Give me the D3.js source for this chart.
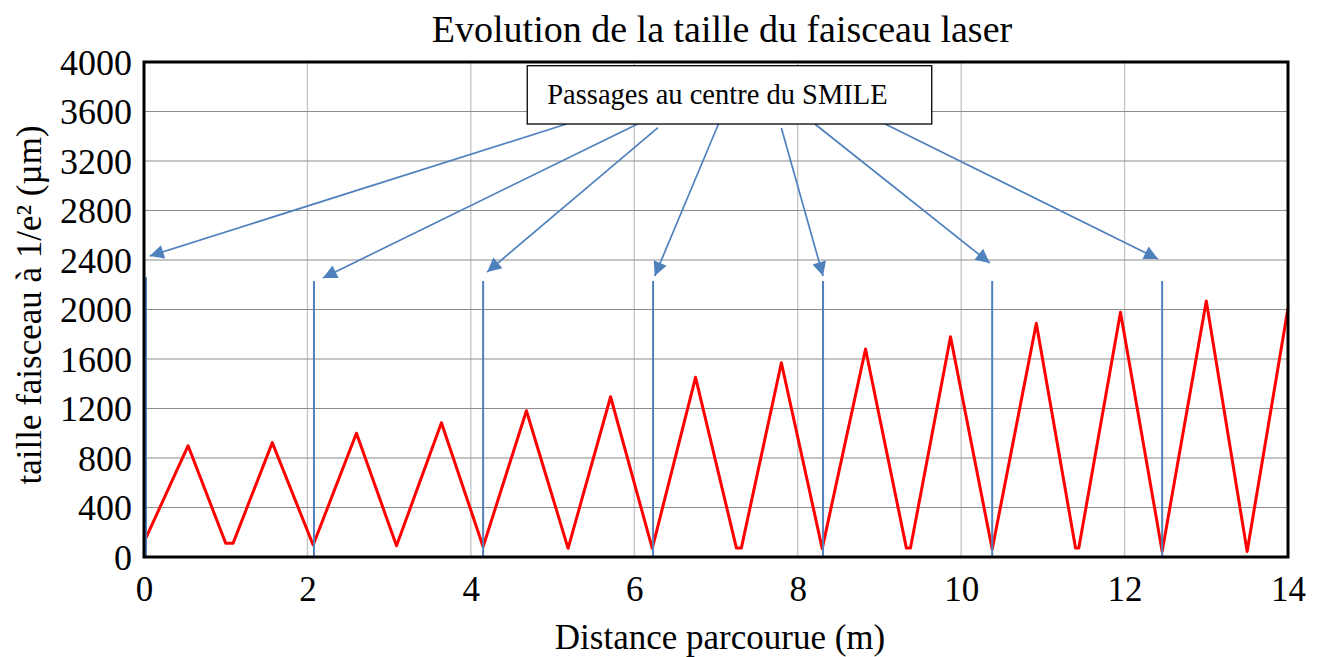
<!DOCTYPE html>
<html>
<head>
<meta charset="utf-8">
<script src="https://cdn.jsdelivr.net/npm/d3@7"></script>
<style>
  html, body { margin: 0; padding: 0; background: #fff; }
  svg { display: block; }
  text { font-family: "Liberation Serif", "Times New Roman", serif; fill: #000; }
</style>
</head>
<body>
<svg id="chart" width="1321" height="657"></svg>
<script>
// ---- data ----
const title = "Evolution de la taille du faisceau laser";
const xLabel = "Distance parcourue (m)";
const yLabel = "taille faisceau à 1/e² (µm)";
const annotationText = "Passages au centre du SMILE";

const xTicks = [0, 2, 4, 6, 8, 10, 12, 14];
const yTicks = [0, 400, 800, 1200, 1600, 2000, 2400, 2800, 3200, 3600, 4000];

// beam size (µm) vs distance (m): peaks and troughs
const distance = [0, 0.54, 1.0, 1.09, 1.57, 2.07, 2.60, 3.09, 3.64, 4.15, 4.68, 5.19, 5.71, 6.22, 6.75, 7.25, 7.31, 7.80, 8.30, 8.83, 9.33, 9.38, 9.87, 10.38, 10.92, 11.40, 11.44, 11.95, 12.46, 13.0, 13.5, 14.0];
const beamSize = [120, 899, 111, 111, 924, 97, 1000, 91, 1085, 83, 1182, 70, 1295, 70, 1452, 72, 72, 1570, 68, 1681, 72, 72, 1780, 62, 1889, 72, 72, 1978, 45, 2069, 45, 2010];

// passages through the SMILE centre (blue vertical markers)
const passageX = [0, 2.08, 4.15, 6.23, 8.31, 10.38, 12.46];
const passageTop = [2260, 2230, 2230, 2230, 2230, 2230, 2230];

// annotation box (data units) and arrows (start on box, tip near markers)
const boxX = [4.69, 9.64];
const boxY = [3970, 3499];
const arrowFromX = [5.17, 6.04, 6.29, 7.03, 7.80, 8.21, 9.07];
const arrowFromY = [3499, 3499, 3469, 3499, 3467, 3499, 3499];
const arrowToX = [0.07, 2.19, 4.20, 6.25, 8.31, 10.35, 12.41];
const arrowToY = [2432, 2255, 2303, 2271, 2271, 2376, 2408];

// ---- layout ----
const svg = d3.select("#chart");
const L = 144, R = 1288, T = 62, B = 557;
const x = d3.scaleLinear().domain([0, 14]).range([L, R]);
const y = d3.scaleLinear().domain([0, 4000]).range([B, T]);

const blue = "#4F81BD";

// gridlines
svg.append("g").selectAll("line").data(xTicks).join("line")
  .attr("x1", d => x(d)).attr("x2", d => x(d))
  .attr("y1", T).attr("y2", B)
  .attr("stroke", "#C4C4C4").attr("stroke-width", 1.3);
svg.append("g").selectAll("line").data(yTicks).join("line")
  .attr("x1", L).attr("x2", R)
  .attr("y1", d => y(d)).attr("y2", d => y(d))
  .attr("stroke", "#8C8C8C").attr("stroke-width", 1.2);

// axes (labels only)
const xAxis = d3.axisBottom(x).tickValues(xTicks).tickSize(0).tickPadding(19).tickFormat(d3.format("d"));
const gx = svg.append("g").attr("transform", `translate(0,${B})`).call(xAxis);
gx.select(".domain").remove();
gx.selectAll("text").attr("font-size", 35).attr("font-family", "Liberation Serif").attr("fill", "#000").attr("dy", "0.71em");

const yAxis = d3.axisLeft(y).tickValues(yTicks).tickSize(0).tickPadding(12).tickFormat(d3.format("d"));
const gy = svg.append("g").attr("transform", `translate(${L},0)`).call(yAxis);
gy.select(".domain").remove();
gy.selectAll("text").attr("font-size", 36).attr("font-family", "Liberation Serif").attr("fill", "#000").attr("dy", "0.34em");

// red beam curve
const line = d3.line().x((d, i) => x(distance[i])).y((d, i) => y(beamSize[i]));
svg.append("path").datum(beamSize)
  .attr("d", line)
  .attr("fill", "none").attr("stroke", "#FF0000").attr("stroke-width", 3)
  .attr("stroke-linejoin", "round");

// passage markers
svg.append("g").selectAll("line").data(passageX).join("line")
  .attr("x1", d => x(d) + (d === 0 ? 2 : 0)).attr("x2", d => x(d) + (d === 0 ? 2 : 0))
  .attr("y1", (d, i) => y(passageTop[i])).attr("y2", y(0))
  .attr("stroke", blue).attr("stroke-width", 2);

// plot frame
svg.append("rect").attr("x", L).attr("y", T).attr("width", R - L).attr("height", B - T)
  .attr("fill", "none").attr("stroke", "#000").attr("stroke-width", 3);

// arrows
const defs = svg.append("defs");
defs.append("marker").attr("id", "arrowhead")
  .attr("viewBox", "0 0 10 10").attr("refX", 10).attr("refY", 5)
  .attr("markerUnits", "userSpaceOnUse")
  .attr("markerWidth", 18).attr("markerHeight", 14)
  .attr("orient", "auto")
  .append("path").attr("d", "M0,0 L10,5 L0,10 Z").attr("fill", blue);

svg.append("g").selectAll("line").data(arrowFromX).join("line")
  .attr("x1", (d, i) => x(arrowFromX[i])).attr("y1", (d, i) => y(arrowFromY[i]))
  .attr("x2", (d, i) => x(arrowToX[i])).attr("y2", (d, i) => y(arrowToY[i]))
  .attr("stroke", blue).attr("stroke-width", 1.7)
  .attr("marker-end", "url(#arrowhead)");

// annotation box
svg.append("rect")
  .attr("x", x(boxX[0])).attr("y", y(boxY[0]))
  .attr("width", x(boxX[1]) - x(boxX[0])).attr("height", y(boxY[1]) - y(boxY[0]))
  .attr("fill", "#fff").attr("stroke", "#000").attr("stroke-width", 1.3);
svg.append("text")
  .attr("x", x(boxX[0]) + 20).attr("y", y(boxY[0]) + 38)
  .attr("font-size", 28.5).text(annotationText);

// titles
svg.append("text").attr("x", 722).attr("y", 42).attr("text-anchor", "middle")
  .attr("font-size", 38).text(title);
svg.append("text").attr("x", 720).attr("y", 649).attr("text-anchor", "middle")
  .attr("font-size", 35).text(xLabel);
svg.append("text").attr("transform", "translate(41,305) rotate(-90)").attr("text-anchor", "middle")
  .attr("font-size", 35).text(yLabel);
</script>
</body>
</html>
